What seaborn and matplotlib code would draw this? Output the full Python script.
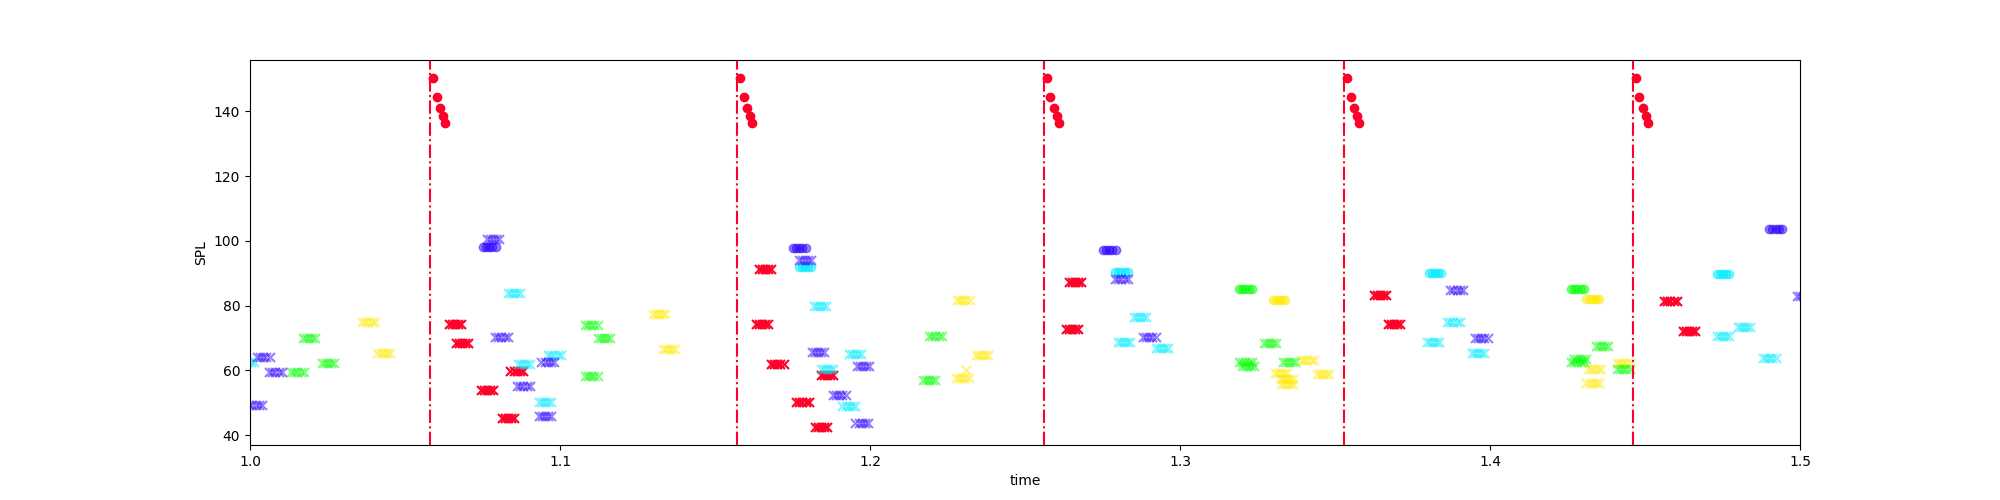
#!/usr/bin/env python3
# SPL of tracked peaks over time, with onsets marked
import numpy as np
import pandas as pd
import matplotlib
matplotlib.use("Agg")
import matplotlib.pyplot as plt
import seaborn as sns

onset_times = [1.0581, 1.1571, 1.2561, 1.3529, 1.4461]
attack_offsets = [0.0010, 0.0021, 0.0031, 0.0041, 0.0049]
attack_spl = [150.4, 144.5, 141.0, 138.5, 136.5]

# every track lasts a handful of frames around its centre time
frame_offsets = [-0.002, -0.001, 0.0, 0.001, 0.002]

red_x_t = [1.0661, 1.0683, 1.0765, 1.0860, 1.0832, 1.1661, 1.1652, 1.1701, 1.1861, 1.1782, 1.1841,
           1.2661, 1.2652, 1.3646, 1.3691, 1.4582, 1.4642]
red_x_spl = [74.3, 68.4, 53.8, 59.9, 45.2, 91.3, 74.2, 61.9, 58.5, 50.1, 42.4,
             87.3, 72.7, 83.2, 74.3, 81.4, 72.1]

yellow_x_t = [1.0382, 1.0431, 1.1320, 1.1351, 1.2301, 1.2298, 1.2361, 1.3411, 1.3325, 1.3345, 1.3345,
              1.3461, 1.4337, 1.4331, 1.4430]
yellow_x_spl = [74.9, 65.3, 77.4, 66.5, 81.7, 57.6, 64.7, 63.1, 59.3, 57.2, 55.8,
                58.8, 60.3, 56.0, 62.2]
yellow_o_t = [1.3320, 1.4331]
yellow_o_spl = [81.7, 82.0]

green_x_t = [1.0153, 1.0191, 1.0252, 1.1101, 1.1142, 1.1101, 1.2211, 1.2191, 1.3291, 1.3211, 1.3220,
             1.3352, 1.4361, 1.4290, 1.4282, 1.4430]
green_x_spl = [59.4, 69.9, 62.2, 74.0, 69.9, 58.2, 70.7, 56.9, 68.4, 62.7, 61.3,
               62.5, 67.5, 63.5, 62.5, 60.4]
green_o_t = [1.3211, 1.4282]
green_o_spl = [85.1, 85.1]

cyan_x_t = [0.9992, 1.0852, 1.0883, 1.0982, 1.0952, 1.1839, 1.1952, 1.1861, 1.1931, 1.2871, 1.2820,
            1.2942, 1.3817, 1.3882, 1.3961, 1.4820, 1.4751, 1.4901]
cyan_x_spl = [62.5, 83.9, 61.9, 64.7, 50.1, 79.8, 65.0, 60.3, 48.9, 76.4, 68.7,
              66.8, 68.8, 74.8, 65.3, 73.3, 70.6, 63.7]
cyan_o_t = [1.1791, 1.2811, 1.3822, 1.4751]
cyan_o_spl = [91.8, 90.5, 90.0, 89.8]

blue_x_t = [1.0018, 1.0043, 1.0082, 1.0783, 1.0811, 1.0882, 1.0960, 1.0952, 1.1791, 1.1832, 1.1977,
            1.1901, 1.1973, 1.2811, 1.2901, 1.3892, 1.3972, 1.5010]
blue_x_spl = [49.2, 64.2, 59.4, 100.6, 70.2, 55.2, 62.5, 45.8, 94.2, 65.6, 61.3,
              52.3, 43.7, 88.3, 70.2, 84.8, 69.9, 82.9]
blue_o_t = [1.0772, 1.1772, 1.2772, 1.4921]
blue_o_spl = [98.0, 97.8, 97.2, 103.7]

# the stray single frame above the yellow track near 1.23
stray_t = [1.2310]
stray_spl = [60.0]

x_ticks = [1.0, 1.1, 1.2, 1.3, 1.4, 1.5]
y_ticks = [40, 60, 80, 100, 120, 140]

cmap = plt.get_cmap("gist_rainbow")
RED, YELLOW, GREEN, CYAN, BLUE = [cmap(i / 5) for i in range(5)]


def expand(times, spl):
    """One row per frame of each track."""
    rows = [(t + off, s) for t, s in zip(times, spl) for off in frame_offsets]
    return pd.DataFrame(rows, columns=["time", "SPL"])


def draw(ax, df, color, marker, alpha=0.5):
    if marker == "x":
        sns.scatterplot(data=df, x="time", y="SPL", ax=ax, color=color, marker="x",
                        s=42, alpha=alpha, linewidth=1.5, legend=False)
    else:
        sns.scatterplot(data=df, x="time", y="SPL", ax=ax, color=color, marker="o",
                        s=36, alpha=alpha, linewidth=1.0, edgecolor=color, legend=False)


fig, ax = plt.subplots(figsize=(20, 5), dpi=100)

for onset in onset_times:
    ax.axvline(onset, color=RED, linestyle="-.", linewidth=1.5)
    attack = pd.DataFrame({"time": [onset + off for off in attack_offsets], "SPL": attack_spl})
    draw(ax, attack, RED, "o", alpha=1.0)

draw(ax, expand(red_x_t, red_x_spl), RED, "x", alpha=1.0)
draw(ax, expand(yellow_x_t, yellow_x_spl), YELLOW, "x")
draw(ax, expand(yellow_o_t, yellow_o_spl), YELLOW, "o")
draw(ax, expand(green_x_t, green_x_spl), GREEN, "x")
draw(ax, expand(green_o_t, green_o_spl), GREEN, "o")
draw(ax, expand(cyan_x_t, cyan_x_spl), CYAN, "x")
draw(ax, expand(cyan_o_t, cyan_o_spl), CYAN, "o")
draw(ax, expand(blue_x_t, blue_x_spl), BLUE, "x")
draw(ax, expand(blue_o_t, blue_o_spl), BLUE, "o")
draw(ax, pd.DataFrame({"time": stray_t, "SPL": stray_spl}), YELLOW, "x")

ax.set_xlim(1.0, 1.5)
ax.set_ylim(36.95, 155.9)
ax.set_xticks(x_ticks)
ax.set_yticks(y_ticks)
ax.set_xlabel("time")
ax.set_ylabel("SPL")

fig.savefig("out.png", dpi=100)
